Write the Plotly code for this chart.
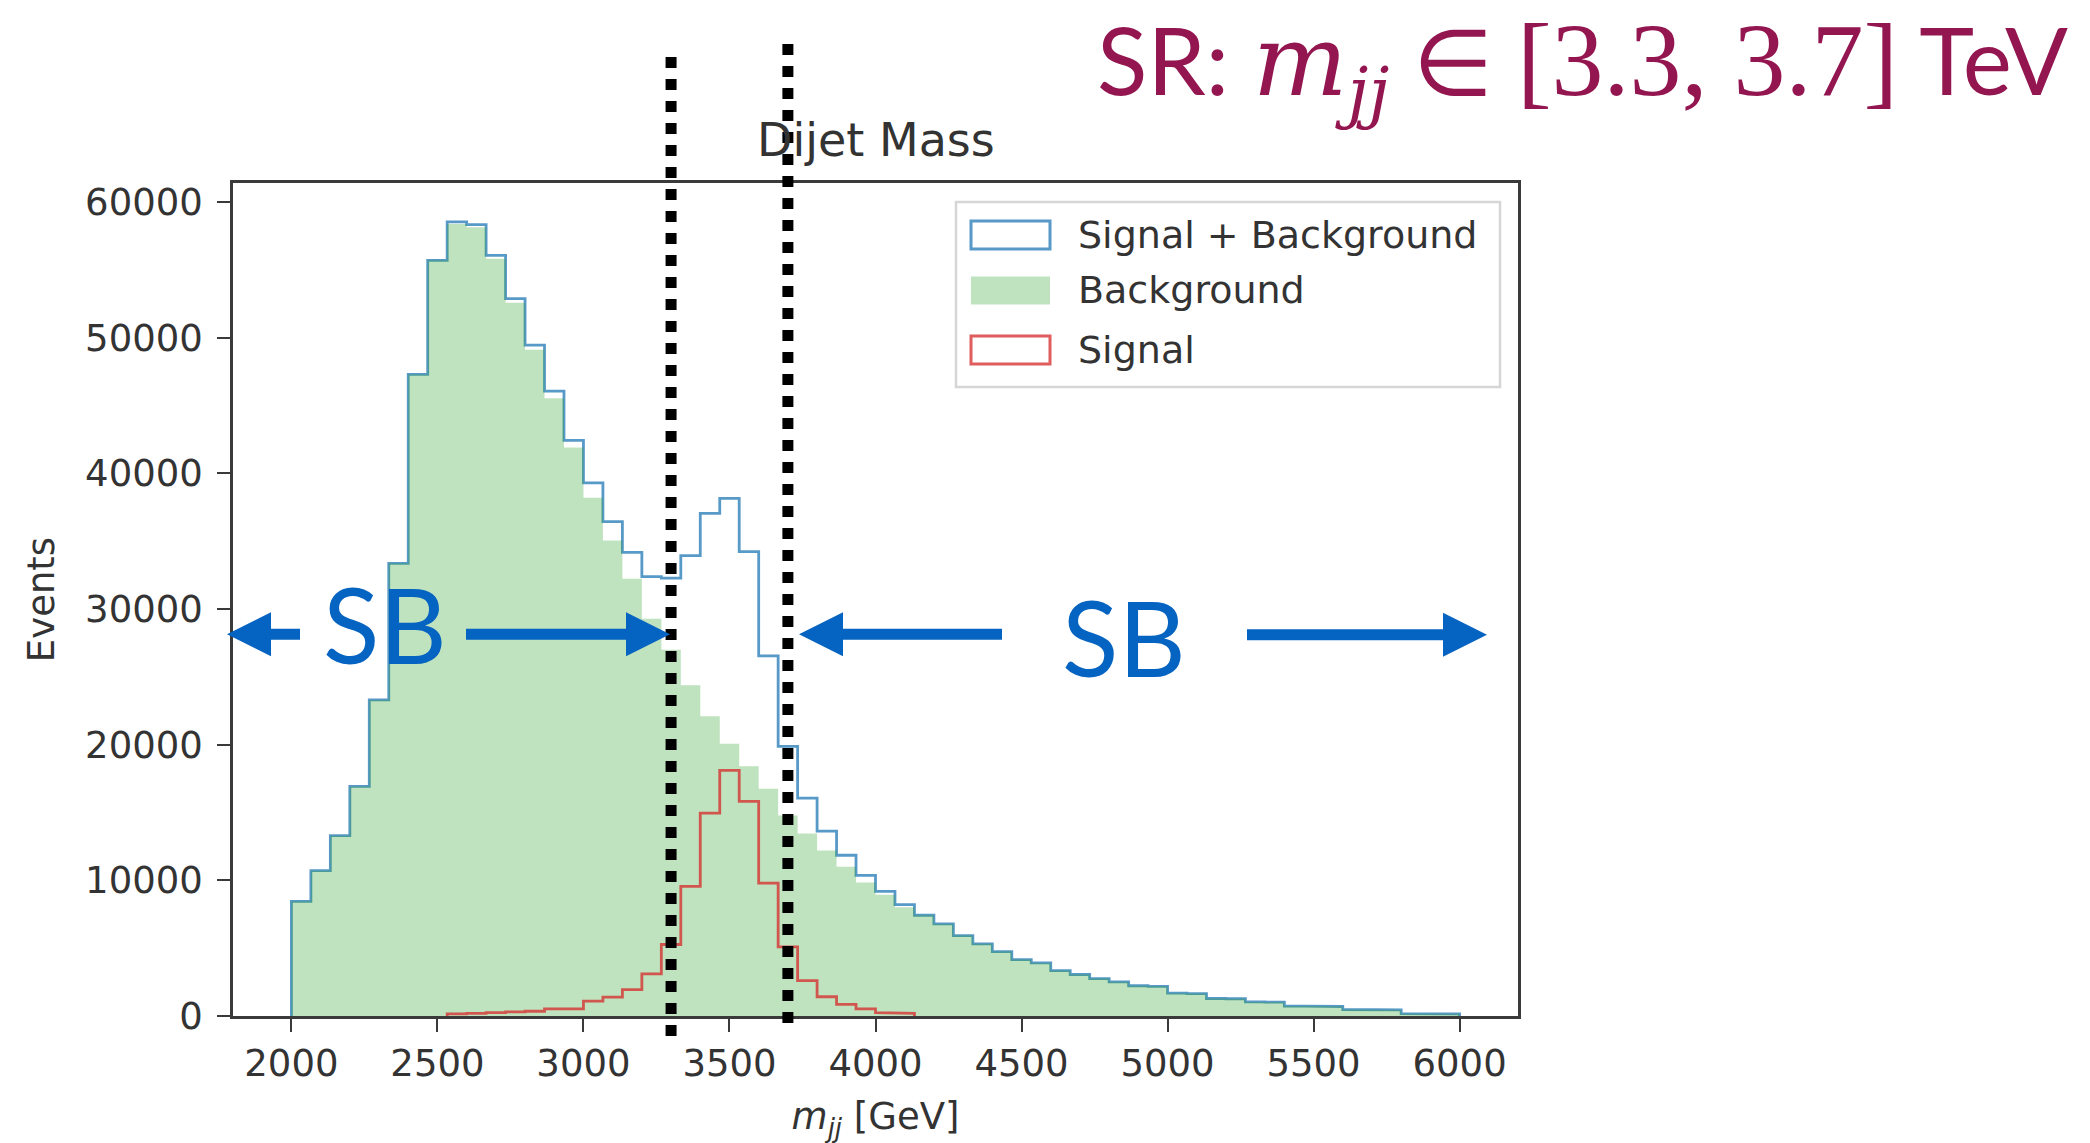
import plotly.graph_objects as go

# ---- histogram data: 60 equal-width bins between 2 and 6 TeV ----
bin_lo, bin_hi, n_bins = 2000, 6000, 60

background = [
    8450, 10710, 13290, 16920, 23300, 33370, 47290, 55700, 58380, 58130,
    55820, 52580, 49100, 45530, 41900, 38200, 35050, 32230, 29290, 27000,
    24380, 22090, 20060, 18410, 16750, 14770, 13450, 12200, 11000, 9840,
    8940, 8010, 7425, 6790, 5930, 5320, 4750, 4160, 3915, 3350,
    3060, 2760, 2520, 2230, 2190, 1680, 1650, 1290, 1270, 1040,
    1020, 730, 720, 700, 480, 470, 450, 170, 160, 150,
]
signal = [
    0, 0, 0, 0, 0, 0, 0, 0, 150, 200,
    250, 300, 350, 530, 530, 1090, 1390, 1950, 3100, 5270,
    9560, 14960, 18100, 15820, 9800, 5100, 2610, 1420, 850, 530,
    250, 200, 0, 0, 0, 0, 0, 0, 0, 0,
    0, 0, 0, 0, 0, 0, 0, 0, 0, 0,
    0, 0, 0, 0, 0, 0, 0, 0, 0, 0,
]

# signal region boundaries [GeV]
sr_low, sr_high = 3300, 3700

x_ticks = [2000, 2500, 3000, 3500, 4000, 4500, 5000, 5500, 6000]
y_ticks = [0, 10000, 20000, 30000, 40000, 50000, 60000]

edges = [bin_lo + i * (bin_hi - bin_lo) / n_bins for i in range(n_bins + 1)]
total = [b + s for b, s in zip(background, signal)]


def step_outline(values, first=0, last=None):
    """Closed step outline of a histogram over bins [first, last)."""
    if last is None:
        last = len(values)
    xs, ys = [edges[first]], [0]
    for i in range(first, last):
        xs += [edges[i], edges[i + 1]]
        ys += [values[i], values[i]]
    xs.append(edges[last])
    ys.append(0)
    return xs, ys


nz = [i for i, v in enumerate(signal) if v > 0]
sig_first, sig_last = nz[0], nz[-1] + 1

# ---- figure geometry (pixels) ----
W, H = 2090, 1143
PL, PR, PT, PB = 233, 1518, 183, 1016.5


def px(x):
    return (x - PL) / (PR - PL)


def py(y):
    return (PB - y) / (PB - PT)


BLUE = "rgba(31,119,180,0.75)"
GREEN = "rgba(44,160,44,0.30)"
RED = "rgba(214,39,40,0.75)"
ANN = "#0563C1"
TXT = "#333333"
MPL_FONT = "DejaVu Sans"

fig = go.Figure()

xs, ys = step_outline(total)
fig.add_trace(go.Scatter(x=xs, y=ys, mode="lines", name="Signal + Background",
                         line=dict(color=BLUE, width=2.8), showlegend=False))
xs, ys = step_outline(background)
fig.add_trace(go.Scatter(x=xs, y=ys, mode="lines", name="Background",
                         line=dict(width=0), fill="tozeroy", fillcolor=GREEN,
                         showlegend=False))
xs, ys = step_outline(signal, sig_first, sig_last)
fig.add_trace(go.Scatter(x=xs, y=ys, mode="lines", name="Signal",
                         line=dict(color=RED, width=2.8), showlegend=False))

shapes = []
annotations = []

# ---- legend box drawn like matplotlib's ----
shapes.append(dict(type="rect", xref="paper", yref="paper",
                   x0=px(956), x1=px(1500), y0=py(202), y1=py(387),
                   line=dict(color="#d6d6d6", width=2.5),
                   fillcolor="rgba(255,255,255,0.8)", layer="above"))
legend_items = [
    ("Signal + Background", 235, dict(line=dict(color=BLUE, width=3), fillcolor="rgba(0,0,0,0)")),
    ("Background", 290.5, dict(line=dict(width=0), fillcolor=GREEN)),
    ("Signal", 350, dict(line=dict(color=RED, width=3), fillcolor="rgba(0,0,0,0)")),
]
for label, yc, style in legend_items:
    shapes.append(dict(type="rect", xref="paper", yref="paper",
                       x0=px(971), x1=px(1050), y0=py(yc - 14), y1=py(yc + 14),
                       layer="above", **style))
    annotations.append(dict(text=label, xref="paper", yref="paper",
                            x=px(1076), y=py(yc), xanchor="left", yanchor="middle",
                            showarrow=False, font=dict(family=MPL_FONT, size=38, color=TXT)))

# ---- signal-region boundaries ----
for xv, top, bottom in [(sr_low, 57, 1045), (sr_high, 44, 1027)]:
    shapes.append(dict(type="line", xref="x", yref="paper",
                       x0=xv, x1=xv, y0=py(top), y1=py(bottom),
                       line=dict(color="black", width=11, dash="dot"), layer="above"))


# ---- sideband arrows ----
def arrow(x_tail, x_tip, y, head=44, half_head=22, half_shaft=5.5):
    d = 1 if x_tip > x_tail else -1
    xb = x_tip - d * head
    pts = [(x_tail, y - half_shaft), (xb, y - half_shaft), (xb, y - half_head),
           (x_tip, y), (xb, y + half_head), (xb, y + half_shaft), (x_tail, y + half_shaft)]
    path = "M " + " L ".join(f"{px(a):.5f},{py(b):.5f}" for a, b in pts) + " Z"
    return dict(type="path", xref="paper", yref="paper", path=path,
                fillcolor=ANN, line=dict(width=0), layer="above")


shapes += [arrow(300, 227, 634.5), arrow(466, 670, 634.5),
           arrow(1002, 799, 634.5), arrow(1247, 1487, 635)]

for xc, yc in [(384.5, 624), (1123.5, 637)]:
    annotations.append(dict(text="SB", xref="paper", yref="paper", x=px(xc), y=py(yc),
                            xanchor="center", yanchor="middle", showarrow=False,
                            font=dict(family="Lato", size=104, color=ANN)))

# ---- signal-region label ----
sr_text = ("SR: <span style='font-family:DejaVu Serif;font-size:100px'><i>m</i></span>"
           "<span style='font-family:DejaVu Serif;font-size:96px'><sub><i>jj</i></sub></span>"
           " <span style='font-family:Liberation Serif;font-size:92px'>∈</span>"
           " <span style='font-family:Liberation Serif;font-size:104px'>[3.3, 3.7]</span> TeV")
annotations.append(dict(text=sr_text, xref="paper", yref="paper", x=px(2070), y=py(0),
                        xanchor="right", yanchor="top", showarrow=False,
                        font=dict(family="Lato", size=93, color="#941651")))

# ---- chart title ----
annotations.append(dict(text="Dijet Mass", xref="paper", yref="paper", x=0.5, y=py(140),
                        xanchor="center", yanchor="middle", showarrow=False,
                        font=dict(family=MPL_FONT, size=46, color=TXT)))

axis_common = dict(showgrid=False, zeroline=False, showline=True, mirror=True,
                   linecolor="#3a3a3a", linewidth=2.6, ticks="outside", ticklen=13,
                   tickwidth=2.4, tickcolor="#3a3a3a", automargin=False,
                   tickfont=dict(family=MPL_FONT, size=37, color=TXT))

fig.update_layout(
    width=W, height=H,
    margin=dict(l=PL, r=W - PR, t=PT, b=H - PB, pad=0),
    paper_bgcolor="white", plot_bgcolor="white",
    xaxis=dict(range=[1800, 6200], tickvals=x_ticks, ticktext=[str(v) for v in x_ticks],
               title=dict(text="<i>m</i><sub><i>jj</i></sub> [GeV]", standoff=32,
                          font=dict(family=MPL_FONT, size=37, color=TXT)),
               **axis_common),
    yaxis=dict(range=[0, 61400], tickvals=y_ticks, ticktext=[str(v) for v in y_ticks],
               ticklabelstandoff=7,
               title=dict(text="Events", standoff=20,
                          font=dict(family=MPL_FONT, size=37, color=TXT)),
               **axis_common),
    shapes=shapes,
    annotations=annotations,
)

fig.write_html("out.html")
